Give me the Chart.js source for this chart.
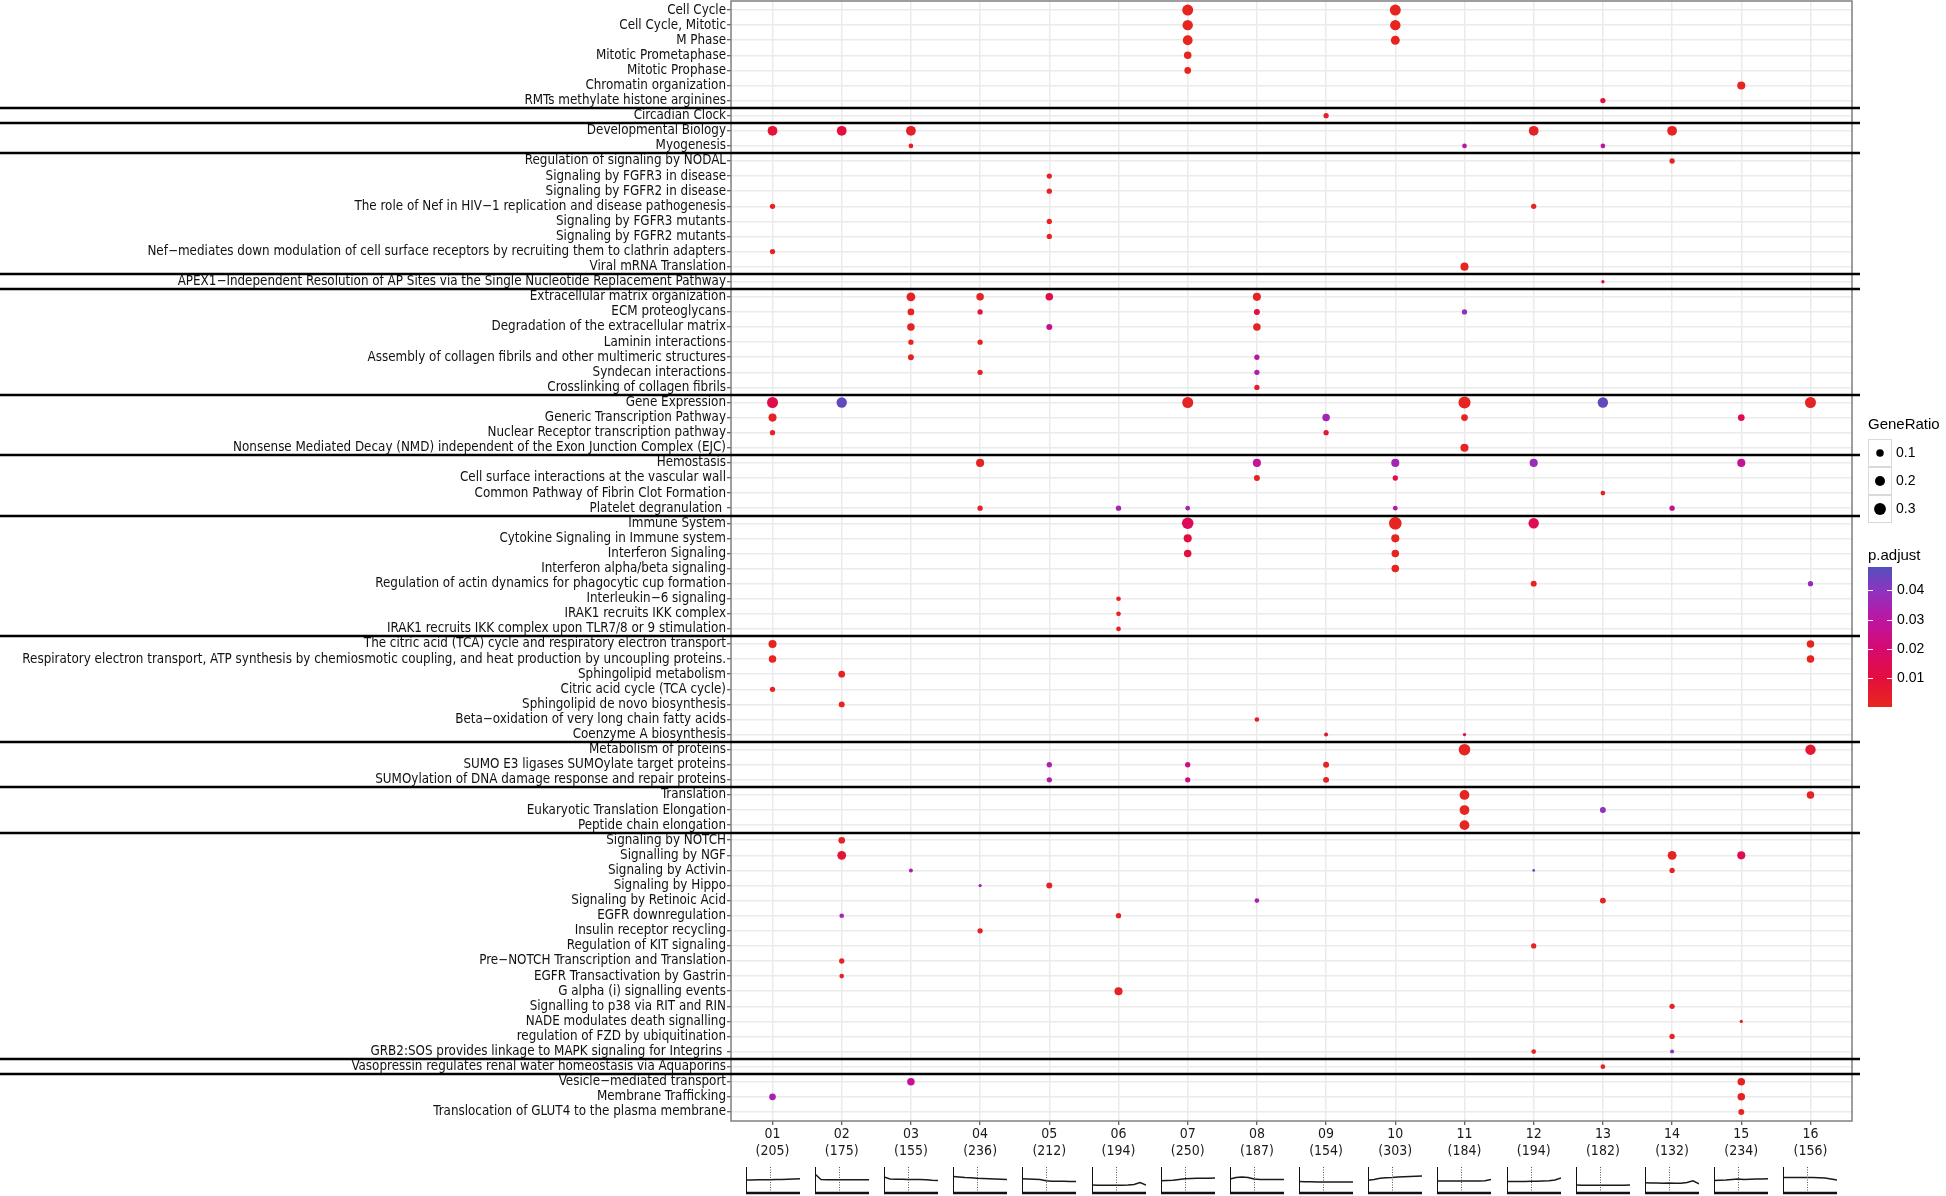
<!DOCTYPE html>
<html>
<head>
<meta charset="utf-8">
<script src="https://cdn.jsdelivr.net/npm/chart.js@4.4.0/dist/chart.umd.min.js"></script>
<style>
  body { margin: 0; background: #fff; }
  #wrap { position: relative; width: 1946px; height: 1196px; }
  .thumb { position: absolute; }
</style>
</head>
<body>
<div id="wrap"><canvas id="dotplot" width="1946" height="1196"></canvas></div>
<script>
// pathways, top to bottom
var pathways = [
  'Cell Cycle', 'Cell Cycle, Mitotic', 'M Phase', 'Mitotic Prometaphase', 'Mitotic Prophase',
  'Chromatin organization', 'RMTs methylate histone arginines',
  'Circadian Clock',
  'Developmental Biology', 'Myogenesis',
  'Regulation of signaling by NODAL', 'Signaling by FGFR3 in disease', 'Signaling by FGFR2 in disease',
  'The role of Nef in HIV\u22121 replication and disease pathogenesis', 'Signaling by FGFR3 mutants',
  'Signaling by FGFR2 mutants',
  'Nef\u2212mediates down modulation of cell surface receptors by recruiting them to clathrin adapters',
  'Viral mRNA Translation',
  'APEX1\u2212Independent Resolution of AP Sites via the Single Nucleotide Replacement Pathway',
  'Extracellular matrix organization', 'ECM proteoglycans', 'Degradation of the extracellular matrix',
  'Laminin interactions', 'Assembly of collagen fibrils and other multimeric structures',
  'Syndecan interactions', 'Crosslinking of collagen fibrils',
  'Gene Expression', 'Generic Transcription Pathway', 'Nuclear Receptor transcription pathway',
  'Nonsense Mediated Decay (NMD) independent of the Exon Junction Complex (EJC)',
  'Hemostasis', 'Cell surface interactions at the vascular wall', 'Common Pathway of Fibrin Clot Formation',
  'Platelet degranulation ',
  'Immune System', 'Cytokine Signaling in Immune system', 'Interferon Signaling', 'Interferon alpha/beta signaling',
  'Regulation of actin dynamics for phagocytic cup formation', 'Interleukin\u22126 signaling',
  'IRAK1 recruits IKK complex', 'IRAK1 recruits IKK complex upon TLR7/8 or 9 stimulation',
  'The citric acid (TCA) cycle and respiratory electron transport',
  'Respiratory electron transport, ATP synthesis by chemiosmotic coupling, and heat production by uncoupling proteins.',
  'Sphingolipid metabolism', 'Citric acid cycle (TCA cycle)', 'Sphingolipid de novo biosynthesis',
  'Beta\u2212oxidation of very long chain fatty acids', 'Coenzyme A biosynthesis',
  'Metabolism of proteins', 'SUMO E3 ligases SUMOylate target proteins',
  'SUMOylation of DNA damage response and repair proteins',
  'Translation', 'Eukaryotic Translation Elongation', 'Peptide chain elongation',
  'Signaling by NOTCH', 'Signalling by NGF', 'Signaling by Activin', 'Signaling by Hippo',
  'Signaling by Retinoic Acid', 'EGFR downregulation', 'Insulin receptor recycling',
  'Regulation of KIT signaling', 'Pre\u2212NOTCH Transcription and Translation', 'EGFR Transactivation by Gastrin',
  'G alpha (i) signalling events', 'Signalling to p38 via RIT and RIN', 'NADE modulates death signalling',
  'regulation of FZD by ubiquitination', 'GRB2:SOS provides linkage to MAPK signaling for Integrins ',
  'Vasopressin regulates renal water homeostasis via Aquaporins',
  'Vesicle\u2212mediated transport', 'Membrane Trafficking', 'Translocation of GLUT4 to the plasma membrane'
];
// number of pathways in each block (black separators between blocks)
var groupSizes = [7, 1, 2, 8, 1, 7, 4, 4, 8, 7, 3, 3, 15, 1, 3];

var clusters = ['01','02','03','04','05','06','07','08','09','10','11','12','13','14','15','16'];
var clusterSizes = [205, 175, 155, 236, 212, 194, 250, 187, 154, 303, 184, 194, 182, 132, 234, 156];

// [pathway row (1-based), cluster, GeneRatio, p.adjust]
var hits = [
  [1,'07',0.25,0.001],[1,'10',0.25,0.001],
  [2,'07',0.22,0.001],[2,'10',0.22,0.001],
  [3,'07',0.19,0.001],[3,'10',0.15,0.001],
  [4,'07',0.10,0.001],
  [5,'07',0.075,0.001],
  [6,'15',0.12,0.001],
  [7,'13',0.04,0.009],
  [8,'09',0.04,0.003],
  [9,'01',0.19,0.008],[9,'02',0.19,0.01],[9,'03',0.19,0.003],[9,'12',0.19,0.002],[9,'14',0.19,0.002],
  [10,'03',0.028,0.003],[10,'11',0.028,0.03],[10,'13',0.028,0.03],
  [11,'14',0.04,0.002],
  [12,'05',0.04,0.002],
  [13,'05',0.04,0.002],
  [14,'01',0.04,0.002],[14,'12',0.04,0.002],
  [15,'05',0.04,0.002],
  [16,'05',0.04,0.002],
  [17,'01',0.04,0.002],
  [18,'11',0.12,0.001],
  [19,'13',0.009,0.01],
  [20,'03',0.15,0.002],[20,'04',0.10,0.002],[20,'05',0.10,0.012],[20,'08',0.12,0.002],
  [21,'03',0.075,0.002],[21,'04',0.04,0.008],[21,'08',0.055,0.01],[21,'11',0.04,0.038],
  [22,'03',0.10,0.002],[22,'05',0.055,0.026],[22,'08',0.10,0.002],
  [23,'03',0.04,0.002],[23,'04',0.04,0.002],
  [24,'03',0.055,0.002],[24,'08',0.04,0.028],
  [25,'04',0.04,0.003],[25,'08',0.04,0.033],
  [26,'08',0.04,0.003],
  [27,'01',0.25,0.013],[27,'02',0.22,0.046],[27,'07',0.25,0.002],[27,'11',0.31,0.001],[27,'13',0.22,0.046],[27,'16',0.25,0.002],
  [28,'01',0.12,0.002],[28,'09',0.10,0.035],[28,'11',0.075,0.002],[28,'15',0.075,0.013],
  [29,'01',0.04,0.002],[29,'09',0.04,0.006],
  [30,'11',0.12,0.001],
  [31,'04',0.12,0.002],[31,'08',0.12,0.028],[31,'10',0.12,0.035],[31,'12',0.12,0.038],[31,'15',0.12,0.027],
  [32,'08',0.055,0.002],[32,'10',0.04,0.012],
  [33,'13',0.028,0.003],
  [34,'04',0.04,0.003],[34,'06',0.04,0.035],[34,'07',0.028,0.035],[34,'10',0.028,0.032],[34,'14',0.04,0.026],
  [35,'07',0.28,0.016],[35,'10',0.34,0.001],[35,'12',0.22,0.014],
  [36,'07',0.12,0.01],[36,'10',0.12,0.001],
  [37,'07',0.10,0.01],[37,'10',0.10,0.001],
  [38,'10',0.10,0.001],
  [39,'12',0.055,0.002],[39,'16',0.04,0.037],
  [40,'06',0.028,0.002],
  [41,'06',0.028,0.002],
  [42,'06',0.028,0.002],
  [43,'01',0.12,0.001],[43,'16',0.10,0.001],
  [44,'01',0.10,0.001],[44,'16',0.10,0.001],
  [45,'02',0.075,0.002],
  [46,'01',0.04,0.002],
  [47,'02',0.055,0.002],
  [48,'08',0.028,0.003],
  [49,'09',0.017,0.008],[49,'11',0.009,0.01],
  [50,'11',0.28,0.001],[50,'16',0.22,0.006],
  [51,'05',0.04,0.033],[51,'07',0.04,0.024],[51,'09',0.055,0.002],
  [52,'05',0.04,0.033],[52,'07',0.04,0.024],[52,'09',0.055,0.002],
  [53,'11',0.19,0.001],[53,'16',0.10,0.002],
  [54,'11',0.19,0.001],[54,'13',0.055,0.04],
  [55,'11',0.19,0.001],
  [56,'02',0.075,0.002],
  [57,'02',0.15,0.008],[57,'14',0.15,0.002],[57,'15',0.12,0.014],
  [58,'03',0.017,0.033],[58,'12',0.004,0.044],[58,'14',0.04,0.002],
  [59,'04',0.009,0.035],[59,'05',0.055,0.002],
  [60,'08',0.028,0.035],[60,'13',0.055,0.002],
  [61,'02',0.028,0.035],[61,'06',0.04,0.002],
  [62,'04',0.04,0.002],
  [63,'12',0.04,0.002],
  [64,'02',0.04,0.002],
  [65,'02',0.028,0.002],
  [66,'06',0.12,0.002],
  [67,'14',0.04,0.002],
  [68,'15',0.009,0.002],
  [69,'14',0.04,0.002],
  [70,'12',0.028,0.002],[70,'14',0.017,0.04],
  [71,'13',0.028,0.002],
  [72,'03',0.10,0.027],[72,'15',0.10,0.002],
  [73,'01',0.075,0.034],[73,'15',0.10,0.002],
  [74,'15',0.055,0.002]
];

// expression profile thumbnails under each cluster (relative level, 0 = bottom)
var profiles = [
  [0.48,0.48,0.49,0.49,0.49,0.50,0.50,0.51,0.52,0.53],
  [0.72,0.50,0.49,0.49,0.49,0.49,0.49,0.49,0.49,0.49],
  [0.60,0.52,0.51,0.51,0.50,0.50,0.50,0.49,0.47,0.46],
  [0.62,0.60,0.58,0.57,0.55,0.54,0.53,0.52,0.51,0.50],
  [0.53,0.52,0.51,0.50,0.45,0.43,0.43,0.43,0.42,0.42],
  [0.28,0.27,0.27,0.27,0.27,0.27,0.28,0.30,0.38,0.28],
  [0.45,0.46,0.47,0.50,0.53,0.54,0.55,0.55,0.55,0.56],
  [0.52,0.58,0.60,0.58,0.52,0.50,0.50,0.50,0.50,0.50],
  [0.42,0.41,0.41,0.40,0.40,0.40,0.40,0.40,0.40,0.40],
  [0.47,0.50,0.55,0.57,0.58,0.60,0.61,0.62,0.63,0.64],
  [0.44,0.44,0.44,0.44,0.44,0.44,0.44,0.44,0.45,0.50],
  [0.42,0.42,0.42,0.42,0.43,0.43,0.44,0.45,0.48,0.56],
  [0.28,0.27,0.27,0.27,0.27,0.27,0.27,0.27,0.27,0.28],
  [0.37,0.36,0.36,0.35,0.36,0.35,0.35,0.38,0.45,0.33],
  [0.46,0.47,0.48,0.50,0.52,0.50,0.51,0.52,0.52,0.53],
  [0.58,0.58,0.58,0.58,0.58,0.58,0.57,0.56,0.52,0.48]
];
var profileMark = 4;   // dotted marker position in each thumbnail

var sizeKeys = [0.1, 0.2, 0.3];
var padjTicks = [0.01, 0.02, 0.03, 0.04];
var padjMax = 0.048;

var FONT = "'DejaVu Sans Condensed', 'Liberation Sans', sans-serif";
var LEGEND_FONT = "'Liberation Sans', Arial, sans-serif";

// red -> magenta -> purple -> blue, like the original gradient
var colorStops = [
  [0.000, [230, 40, 30]],
  [0.010, [228, 14, 62]],
  [0.020, [214, 10, 112]],
  [0.030, [188, 22, 162]],
  [0.040, [140, 52, 192]],
  [0.048, [84, 80, 188]]
];
function padjColor(p) {
  for (var i = 1; i < colorStops.length; i++) {
    if (p <= colorStops[i][0] || i === colorStops.length - 1) {
      var a = colorStops[i - 1], b = colorStops[i];
      var t = Math.max(0, Math.min(1, (p - a[0]) / (b[0] - a[0])));
      var c = a[1].map(function(v, k) { return Math.round(v + (b[1][k] - v) * t); });
      return 'rgb(' + c.join(',') + ')';
    }
  }
}
function ratioRadius(r) {
  return (1.5 + 19 * Math.sqrt(r)) / 2;
}

var points = hits.map(function(h) {
  return { x: clusters.indexOf(h[1]), y: h[0] - 1, ratio: h[2], padj: h[3] };
});

var panelPlugin = {
  id: 'panel',
  afterDatasetsDraw: function(chart) {
    var c = chart.ctx, a = chart.chartArea, ys = chart.scales.y;
    c.save();
    c.strokeStyle = '#7f7f7f';
    c.lineWidth = 1.5;
    c.strokeRect(a.left, a.top, a.right - a.left, a.bottom - a.top);
    // block separators
    c.strokeStyle = '#000';
    c.lineWidth = 2.5;
    var n = 0;
    groupSizes.slice(0, -1).forEach(function(g) {
      n += g;
      var y = Math.round(ys.getPixelForValue(n - 0.5));
      c.beginPath();
      c.moveTo(0, y);
      c.lineTo(a.right + 8, y);
      c.stroke();
    });
    c.restore();
  }
};

var legendPlugin = {
  id: 'sideLegend',
  afterDraw: function(chart) {
    var c = chart.ctx;
    var x0 = 1868;
    c.save();
    c.fillStyle = '#000';
    c.textBaseline = 'middle';
    c.font = '15px ' + LEGEND_FONT;
    c.fillText('GeneRatio', x0, 425);
    sizeKeys.forEach(function(k, i) {
      var top = 439 + i * 28;
      c.fillStyle = '#fff';
      c.fillRect(x0, top, 24, 28);
      c.strokeStyle = '#d9d9d9';
      c.lineWidth = 1;
      c.strokeRect(x0 + 0.5, top + 0.5, 23, 27);
      c.fillStyle = '#000';
      c.beginPath();
      c.arc(x0 + 12, top + 14, ratioRadius(k), 0, Math.PI * 2);
      c.fill();
      c.font = '14px ' + LEGEND_FONT;
      c.fillText(String(k), x0 + 28, top + 14);
    });
    c.font = '15px ' + LEGEND_FONT;
    c.fillText('p.adjust', x0, 556);
    var barTop = 567, barBot = 707;
    var g = c.createLinearGradient(0, barBot, 0, barTop);
    colorStops.forEach(function(s) { g.addColorStop(s[0] / padjMax, 'rgb(' + s[1].join(',') + ')'); });
    c.fillStyle = g;
    c.fillRect(x0, barTop, 24, barBot - barTop);
    c.font = '14px ' + LEGEND_FONT;
    padjTicks.forEach(function(t) {
      var y = Math.round(barBot - t / padjMax * (barBot - barTop)) + 0.5;
      c.strokeStyle = '#fff';
      c.lineWidth = 1;
      c.beginPath();
      c.moveTo(x0, y); c.lineTo(x0 + 5, y);
      c.moveTo(x0 + 19, y); c.lineTo(x0 + 24, y);
      c.stroke();
      c.fillStyle = '#000';
      c.fillText(t.toFixed(2), x0 + 29, y);
    });
    c.restore();
  }
};

var chart = new Chart(document.getElementById('dotplot').getContext('2d'), {
  type: 'scatter',
  data: {
    datasets: [{
      data: points,
      pointRadius: function(ctx) { return ctx.raw ? ratioRadius(ctx.raw.ratio) : 3; },
      pointHoverRadius: function(ctx) { return ctx.raw ? ratioRadius(ctx.raw.ratio) : 3; },
      backgroundColor: function(ctx) { return ctx.raw ? padjColor(ctx.raw.padj) : '#e00'; },
      borderWidth: 0
    }]
  },
  options: {
    responsive: false,
    animation: false,
    devicePixelRatio: 1,
    events: [],
    layout: { autoPadding: false, padding: { top: 1, right: 94, left: 0, bottom: 0 } },
    plugins: { legend: { display: false }, tooltip: { enabled: false } },
    scales: {
      x: {
        type: 'linear', min: -0.6, max: clusters.length - 0.4,
        afterBuildTicks: function(s) { s.ticks = clusters.map(function(c, i) { return { value: i }; }); },
        afterFit: function(s) { s.height = 75; s.paddingLeft = 0; s.paddingRight = 0; },
        ticks: {
          autoSkip: false, maxRotation: 0, padding: 1, color: '#1a1a1a',
          font: { family: FONT, size: 14, lineHeight: 1.2 },
          callback: function(v) { return [clusters[v], '(' + clusterSizes[v] + ')']; }
        },
        grid: { color: '#ebebeb', lineWidth: 1.5, tickColor: '#333', tickLength: 4, tickWidth: 1 },
        border: { display: false }
      },
      y: {
        type: 'linear', reverse: true, min: -0.6, max: pathways.length - 0.4,
        afterBuildTicks: function(s) { s.ticks = pathways.map(function(p, i) { return { value: i }; }); },
        afterFit: function(s) { s.width = 731; s.paddingTop = 0; s.paddingBottom = 0; },
        ticks: {
          autoSkip: false, padding: 1, color: '#111',
          font: { family: FONT, size: 13.3, lineHeight: 1.0 },
          callback: function(v) { return pathways[v]; }
        },
        grid: { color: '#ebebeb', lineWidth: 1.5, tickColor: '#333', tickLength: 4, tickWidth: 1 },
        border: { display: false }
      }
    }
  },
  plugins: [panelPlugin, legendPlugin]
});

// small profile charts under the x axis
var thumbAxes = {
  id: 'thumbAxes',
  afterDatasetsDraw: function(ch) {
    var c = ch.ctx, a = ch.chartArea;
    var xm = Math.round(ch.scales.x.getPixelForValue(profileMark)) + 0.5;
    c.save();
    c.strokeStyle = '#111';
    c.lineWidth = 1;
    c.beginPath();
    c.moveTo(a.left + 0.5, 0); c.lineTo(a.left + 0.5, a.bottom);
    c.stroke();
    c.lineWidth = 2.5;
    c.beginPath();
    c.moveTo(a.left, a.bottom + 1); c.lineTo(a.right, a.bottom + 1);
    c.stroke();
    c.lineWidth = 1;
    c.setLineDash([1, 1.5]);
    c.strokeStyle = '#555';
    c.beginPath();
    c.moveTo(xm, 0); c.lineTo(xm, a.bottom);
    c.stroke();
    c.restore();
  }
};

var wrap = document.getElementById('wrap');
profiles.forEach(function(prof, i) {
  var cx = chart.scales.x.getPixelForValue(i);
  var cv = document.createElement('canvas');
  cv.className = 'thumb';
  cv.width = 56; cv.height = 28;
  cv.style.left = Math.round(cx - 28) + 'px';
  cv.style.top = '1167px';
  wrap.appendChild(cv);
  new Chart(cv.getContext('2d'), {
    type: 'line',
    data: {
      datasets: [{
        data: prof.map(function(v, k) { return { x: k, y: v }; }),
        borderColor: '#1a1a1a', borderWidth: 1.4, pointRadius: 0, tension: 0
      }]
    },
    options: {
      responsive: false, animation: false, devicePixelRatio: 1, events: [],
      layout: { autoPadding: false, padding: { left: 1, right: 1, top: 0, bottom: 3 } },
      plugins: { legend: { display: false }, tooltip: { enabled: false } },
      scales: {
        x: { type: 'linear', min: 0, max: prof.length - 1, display: false },
        y: { min: 0, max: 1, display: false }
      }
    },
    plugins: [thumbAxes]
  });
});
</script>
</body>
</html>
